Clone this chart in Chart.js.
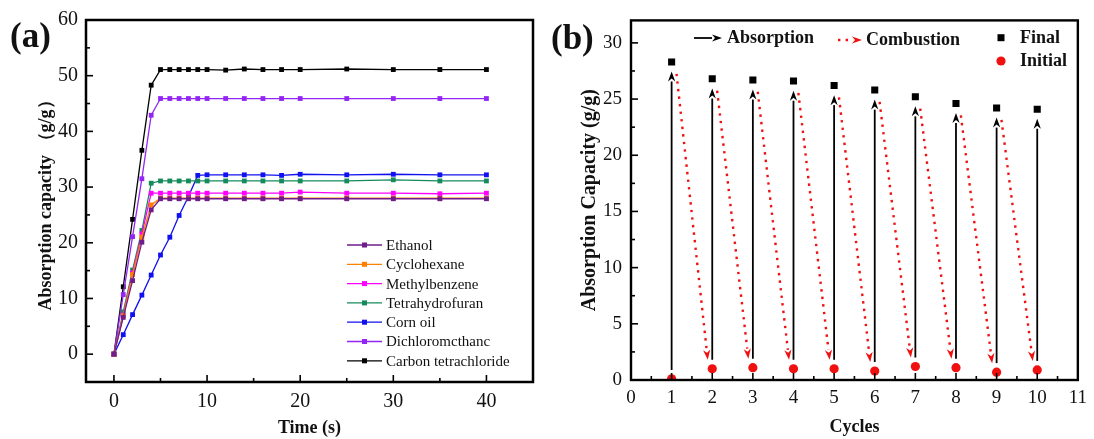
<!DOCTYPE html>
<html>
<head>
<meta charset="utf-8">
<script src="https://cdn.jsdelivr.net/npm/chart.js@4.4.0/dist/chart.umd.min.js"></script>
<style>
	html, body { margin: 0; padding: 0; background: #fff; }
	#wrap { position: relative; width: 1094px; height: 439px; overflow: hidden; }
	.panel { position: absolute; top: 0; height: 439px; }
	#pa { left: 0; width: 545px; }
	#pb { left: 545px; width: 549px; }
	.tag { position: absolute; font: bold 35px "Liberation Serif", serif; line-height: 1; color: #111; }
</style>
</head>
<body>
<div id="wrap">
	<div class="panel" id="pa"><canvas id="chartA"></canvas></div>
	<div class="panel" id="pb"><canvas id="chartB"></canvas></div>
	<div class="tag" style="left:10px;top:18px">(a)</div>
	<div class="tag" style="left:551px;top:20px">(b)</div>
</div>
<script>
// ---- panel (a) data ----
const timeS = [0, 1, 2, 3, 4, 5, 6, 7, 8, 9, 10, 12, 14, 16, 18, 20, 25, 30, 35, 40];
const ethanol = [0, 6.6, 13.2, 20.1, 25.9, 27.9, 27.9, 27.9, 27.9, 27.9, 27.9, 27.9, 27.9, 27.9, 27.9, 27.9, 27.9, 27.9, 27.9, 27.9];
const cyclohexane = [0, 6.9, 14.3, 21.0, 26.8, 28.0, 28.0, 28.0, 28.0, 28.0, 28.0, 28.0, 28.0, 28.0, 28.0, 28.0, 28.0, 28.0, 28.0, 28.0];
const methylbenzene = [0, 7.0, 14.6, 21.6, 28.9, 28.9, 28.9, 28.9, 28.9, 28.9, 28.9, 28.9, 28.9, 28.9, 28.9, 29.1, 28.9, 28.9, 28.8, 28.9];
const tetrahydrofuran = [0, 7.6, 15.1, 22.2, 30.7, 31.1, 31.1, 31.1, 31.1, 31.1, 31.1, 31.1, 31.1, 31.1, 31.1, 31.1, 31.1, 31.3, 31.1, 31.1];
const cornOil = [0, 3.5, 7.1, 10.6, 14.2, 17.8, 21.0, 24.9, 28.3, 32.1, 32.2, 32.2, 32.2, 32.2, 32.1, 32.3, 32.2, 32.3, 32.2, 32.2];
const dichloromethane = [0, 10.7, 21.1, 31.5, 42.9, 45.9, 45.9, 45.9, 45.9, 45.9, 45.9, 45.9, 45.9, 45.9, 45.9, 45.9, 45.9, 45.9, 45.9, 45.9];
const carbonTetrachloride = [0, 12.1, 24.2, 36.6, 48.3, 51.1, 51.1, 51.1, 51.1, 51.1, 51.1, 51.0, 51.2, 51.1, 51.1, 51.1, 51.2, 51.1, 51.1, 51.1];
const timeTicks = [0, 10, 20, 30, 40];
const timeMinor = [5, 15, 25, 35];
const capTicksA = [0, 10, 20, 30, 40, 50, 60];
const capMinorA = [5, 15, 25, 35, 45, 55];

// ---- panel (b) data ----
const cycles = [1, 2, 3, 4, 5, 6, 7, 8, 9, 10];
const finalCap = [28.3, 26.8, 26.7, 26.6, 26.2, 25.8, 25.2, 24.6, 24.2, 24.1];
const initialCap = [0.1, 1.0, 1.1, 1.0, 1.0, 0.8, 1.2, 1.1, 0.7, 0.9];
const cycleTicks = [0, 1, 2, 3, 4, 5, 6, 7, 8, 9, 10, 11];
const cycleMinor = [0.5, 1.5, 2.5, 3.5, 4.5, 5.5, 6.5, 7.5, 8.5, 9.5, 10.5];
const capTicksB = [0, 5, 10, 15, 20, 25, 30];
const capMinorB = [2.5, 7.5, 12.5, 17.5, 22.5, 27.5];

const serif = '"Liberation Serif", "Times New Roman", serif';
const ink = "#111";

const seriesA = [
	{ label: "Ethanol", values: ethanol, color: "#6f1d8a" },
	{ label: "Cyclohexane", values: cyclohexane, color: "#ff8000" },
	{ label: "Methylbenzene", values: methylbenzene, color: "#ff00ff" },
	{ label: "Tetrahydrofuran", values: tetrahydrofuran, color: "#168a5c" },
	{ label: "Corn oil", values: cornOil, color: "#1010f0" },
	{ label: "Dichloromcthanc", values: dichloromethane, color: "#9326f5" },
	{ label: "Carbon tetrachloride", values: carbonTetrachloride, color: "#000000" },
];

/** Box frame plus inward major/minor ticks on the bottom and left axes */
const framePlugin = {
	id: "frame",
	afterDatasetsDraw(chart, args, opts) {
		const { ctx, chartArea: a, scales: { x, y } } = chart;
		ctx.save();
		ctx.strokeStyle = "#000";
		ctx.lineWidth = opts.width;
		ctx.strokeRect(a.left, a.top, a.right - a.left, a.bottom - a.top);
		ctx.lineWidth = 1.6;
		const tx = (vals, len) => vals.forEach((v) => {
			const px = x.getPixelForValue(v);
			ctx.beginPath(); ctx.moveTo(px, a.bottom); ctx.lineTo(px, a.bottom - len); ctx.stroke();
		});
		const ty = (vals, len) => vals.forEach((v) => {
			const py = y.getPixelForValue(v);
			ctx.beginPath(); ctx.moveTo(a.left, py); ctx.lineTo(a.left + len, py); ctx.stroke();
		});
		tx(opts.xMajor, 7); tx(opts.xMinor, 4);
		ty(opts.yMajor, 7); ty(opts.yMinor, 4);
		ctx.restore();
	},
};

function drawArrow(ctx, x1, y1, x2, y2, color, dotted) {
	const ang = Math.atan2(y2 - y1, x2 - x1);
	const hl = 10, hw = 3.6;
	const bx = x2 - hl * Math.cos(ang), by = y2 - hl * Math.sin(ang);
	ctx.strokeStyle = color;
	ctx.fillStyle = color;
	ctx.lineWidth = dotted ? 2.4 : 1.8;
	ctx.setLineDash(dotted ? [2.4, 5.2] : []);
	ctx.beginPath(); ctx.moveTo(x1, y1); ctx.lineTo(bx, by); ctx.stroke();
	ctx.setLineDash([]);
	ctx.beginPath();
	ctx.moveTo(x2, y2);
	ctx.lineTo(bx + hw * Math.sin(ang), by - hw * Math.cos(ang));
	ctx.lineTo(x2 - hl * 0.7 * Math.cos(ang), y2 - hl * 0.7 * Math.sin(ang));
	ctx.lineTo(bx - hw * Math.sin(ang), by + hw * Math.cos(ang));
	ctx.closePath();
	ctx.fill();
}

/** In-plot legend for panel (a) */
const legendA = {
	id: "legendA",
	afterDraw(chart) {
		const { ctx } = chart;
		ctx.save();
		ctx.font = "15px " + serif;
		ctx.textBaseline = "middle";
		chart.data.datasets.forEach((ds, i) => {
			const yy = 245 + i * 19.3;
			ctx.strokeStyle = ds.borderColor;
			ctx.lineWidth = 1.3;
			ctx.beginPath(); ctx.moveTo(347, yy); ctx.lineTo(382, yy); ctx.stroke();
			ctx.fillStyle = ds.pointBackgroundColor;
			ctx.fillRect(362, yy - 2.5, 5, 5);
			ctx.fillStyle = ink;
			ctx.fillText(ds.label, 386, yy + 1);
		});
		ctx.restore();
	},
};

/** Absorption / combustion arrows and legend for panel (b) */
const arrowsB = {
	id: "arrowsB",
	beforeDatasetsDraw(chart) {
		const { ctx, scales: { x, y } } = chart;
		ctx.save();
		cycles.forEach((c, i) => {
			drawArrow(ctx, x.getPixelForValue(c), y.getPixelForValue(initialCap[i] + 0.8),
				x.getPixelForValue(c), y.getPixelForValue(finalCap[i] - 0.85), "#000", false);
			if (i < cycles.length - 1) {
				drawArrow(ctx, x.getPixelForValue(c + 0.12), y.getPixelForValue(finalCap[i] - 1.05),
					x.getPixelForValue(c + 0.89), y.getPixelForValue(initialCap[i + 1] + 0.8), "#f01010", true);
			}
		});
		ctx.restore();
	},
	afterDraw(chart) {
		const { ctx } = chart;
		ctx.save();
		drawArrow(ctx, 149, 38, 177, 38, "#000", false);
		drawArrow(ctx, 293, 40, 317, 40, "#f01010", true);
		ctx.fillStyle = "#000";
		ctx.fillRect(452.5, 34.2, 7, 7);
		ctx.fillStyle = "#f01010";
		ctx.beginPath(); ctx.arc(456, 61, 4.6, 0, Math.PI * 2); ctx.fill();
		ctx.fillStyle = ink;
		ctx.font = "bold 18px " + serif;
		ctx.textBaseline = "middle";
		ctx.fillText("Absorption", 182, 38);
		ctx.fillText("Combustion", 321, 40);
		ctx.fillText("Final", 475, 38);
		ctx.fillText("Initial", 475, 61);
		ctx.restore();
	},
};

function axis(opts) {
	return {
		type: "linear",
		min: opts.min,
		max: opts.max,
		afterBuildTicks: (s) => { s.ticks = opts.ticks.map((v) => ({ value: v })); },
		afterFit: opts.fit,
		grid: { display: false, drawTicks: false },
		border: { display: false },
		ticks: { font: { family: serif, size: opts.tickSize }, color: ink, padding: opts.pad, maxRotation: 0, autoSkip: false },
		title: { display: true, text: opts.title, color: ink, font: { family: serif, size: opts.titleSize, weight: "bold" }, padding: opts.titlePad },
	};
}

new Chart(document.getElementById("chartA"), {
	type: "line",
	data: {
		datasets: seriesA.map((s) => ({
			label: s.label,
			data: timeS.map((t, i) => ({ x: t, y: s.values[i] })),
			borderColor: s.color,
			backgroundColor: s.color,
			pointBackgroundColor: s.color,
			pointBorderWidth: 0,
			borderWidth: 1.3,
			pointStyle: "rect",
			pointRadius: 3.4,
			tension: 0,
		})),
	},
	options: {
		responsive: true,
		maintainAspectRatio: false,
		animation: false,
		layout: { padding: { left: 0, top: 20, right: 12, bottom: 0 } },
		plugins: {
			legend: { display: false },
			tooltip: { enabled: false },
			frame: { width: 2.5, xMajor: timeTicks, xMinor: timeMinor, yMajor: capTicksA, yMinor: capMinorA },
		},
		scales: {
			x: axis({ min: -3, max: 45, ticks: timeTicks, fit: (s) => { s.height = 57; }, tickSize: 20, pad: 8,
				title: "Time (s)", titleSize: 18, titlePad: { top: 0, bottom: 0 } }),
			y: axis({ min: -5, max: 60, ticks: capTicksA, fit: (s) => { s.width = 86; }, tickSize: 20, pad: 8,
				title: "Absorption capacity （g/g）", titleSize: 18, titlePad: { top: 36, bottom: 0 } }),
		},
	},
	plugins: [framePlugin, legendA],
});

new Chart(document.getElementById("chartB"), {
	type: "scatter",
	data: {
		datasets: [
			{
				label: "Final",
				data: cycles.map((c, i) => ({ x: c, y: finalCap[i] })),
				pointStyle: "rect",
				pointRadius: 5,
				pointBorderWidth: 0,
				backgroundColor: "#000",
			},
			{
				label: "Initial",
				data: cycles.map((c, i) => ({ x: c, y: initialCap[i] })),
				pointStyle: "circle",
				pointRadius: 4.6,
				pointBorderWidth: 0,
				backgroundColor: "#f01010",
				clip: 0,
			},
		],
	},
	options: {
		responsive: true,
		maintainAspectRatio: false,
		animation: false,
		layout: { padding: { left: 0, top: 17, right: 14, bottom: 0 } },
		plugins: {
			legend: { display: false },
			tooltip: { enabled: false },
			frame: { width: 2.4, xMajor: cycleTicks, xMinor: cycleMinor, yMajor: capTicksB, yMinor: capMinorB },
		},
		scales: {
			x: axis({ min: 0, max: 11, ticks: cycleTicks, fit: (s) => { s.height = 59; }, tickSize: 19, pad: 7,
				title: "Cycles", titleSize: 18, titlePad: { top: 0, bottom: 1 } }),
			y: axis({ min: 0, max: 32, ticks: capTicksB, fit: (s) => { s.width = 86; }, tickSize: 19, pad: 9,
				title: "Absorption Capacity (g/g)", titleSize: 20, titlePad: { top: 33, bottom: 0 } }),
		},
	},
	plugins: [framePlugin, arrowsB],
});
</script>
</body>
</html>
